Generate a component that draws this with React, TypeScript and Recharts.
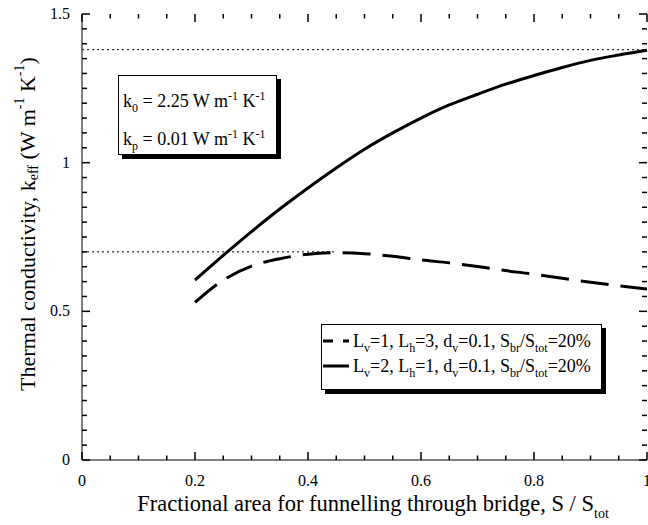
import React from 'react';
import { LineChart, Line, XAxis, YAxis, ReferenceLine, Legend } from 'recharts';

// fractional area S / S_tot
const fractions = [0.2, 0.25, 0.3, 0.35, 0.4, 0.45, 0.5, 0.55, 0.6, 0.65, 0.7, 0.75, 0.8, 0.85, 0.9, 0.95, 1];
// Lv=2, Lh=1 (solid)
const solidK = [0.605, 0.688, 0.768, 0.844, 0.915, 0.982, 1.045, 1.1, 1.15, 1.194, 1.23, 1.264, 1.293, 1.32, 1.344, 1.362, 1.378];
// Lv=1, Lh=3 (dashed)
const dashedK = [0.53, 0.605, 0.652, 0.677, 0.692, 0.697, 0.694, 0.685, 0.673, 0.663, 0.651, 0.637, 0.625, 0.611, 0.598, 0.586, 0.575];

const xTicks = [0, 0.05, 0.1, 0.15, 0.2, 0.25, 0.3, 0.35, 0.4, 0.45, 0.5, 0.55, 0.6, 0.65, 0.7, 0.75, 0.8, 0.85, 0.9, 0.95, 1];
const xMajor = [0, 0.2, 0.4, 0.6, 0.8, 1];
const yTicks = [0, 0.05, 0.1, 0.15, 0.2, 0.25, 0.3, 0.35, 0.4, 0.45, 0.5, 0.55, 0.6, 0.65, 0.7, 0.75, 0.8, 0.85, 0.9, 0.95, 1, 1.05, 1.1, 1.15, 1.2, 1.25, 1.3, 1.35, 1.4, 1.45, 1.5];
const yMajor = [0, 0.5, 1, 1.5];

const upperLevel = 1.38;
const lowerLevel = 0.7;
const lowerLevelEnd = 0.45;

const data = fractions.map((f, i) => ({ f, solid: solidK[i], dashed: dashedK[i] }));

const X_MIN = 0, X_MAX = 1, Y_MIN = 0, Y_MAX = 1.5;
// plot box in pixels, used only to turn tick lengths (px) into data units
const PLOT_W = 565, PLOT_H = 446;
const xPerPx = (X_MAX - X_MIN) / PLOT_W;
const yPerPx = (Y_MAX - Y_MIN) / PLOT_H;

const FONT = '"Liberation Serif", "Times New Roman", serif';
const FRAME = { stroke: '#000', strokeWidth: 1 };
const isMajor = (v: number, list: number[]) => list.some(m => Math.abs(m - v) < 1e-6);

const BottomLabel = ({ x, y, payload }: any) => (
  <text x={x} y={y + 26} textAnchor="middle" fontSize={16} fontFamily={FONT} fill="#000">
    {String(payload.value)}
  </text>
);

const LeftLabel = ({ x, y, payload }: any) => (
  <text x={x - 12} y={y + 5} textAnchor="end" fontSize={16} fontFamily={FONT} fill="#000">
    {String(payload.value)}
  </text>
);

const XTitle = () => (
  <text x={373} y={511} textAnchor="middle" fontSize={22.5} fontFamily={FONT} fill="#000">
    Fractional area for funnelling through bridge, S / S
    <tspan dy={7} fontSize={14}>tot</tspan>
  </text>
);

const YTitle = () => {
  const cy = 224;
  const cx = 27;
  return (
    <text x={cx} y={cy} transform={`rotate(-90 ${cx} ${cy})`} textAnchor="middle" dominantBaseline="central"
      fontSize={22} fontFamily={FONT} fill="#000">
      Thermal conductivity, k
      <tspan dy={6} fontSize={14}>eff</tspan>
      <tspan dy={-6}> (W m</tspan>
      <tspan dy={-8} fontSize={14}>-1</tspan>
      <tspan dy={8}> K</tspan>
      <tspan dy={-8} fontSize={14}>-1</tspan>
      <tspan dy={8}>)</tspan>
    </text>
  );
};

const sub = (s: string) => <span style={{ fontSize: 12, verticalAlign: -5, lineHeight: 0 }}>{s}</span>;
const sup = (s: string) => <span style={{ fontSize: 12, verticalAlign: 7, lineHeight: 0 }}>{s}</span>;

const rowStyle: React.CSSProperties = {
  position: 'absolute', left: 0, height: 24, lineHeight: '24px', display: 'flex', alignItems: 'center', whiteSpace: 'nowrap'
};

const LegendBox = () => (
  <div style={{
    position: 'relative', width: 281, height: 66, boxSizing: 'border-box',
    border: '1px solid #000', boxShadow: '4px 4px 0 #000', background: '#fff',
    fontFamily: FONT, fontSize: 18, color: '#000'
  }}>
    <div style={{ ...rowStyle, top: 4 }}>
      <svg width={26} height={10} style={{ marginLeft: 1, marginRight: 4 }}>
        <line x1={0} x2={26} y1={5} y2={5} stroke="#000" strokeWidth={3} strokeDasharray="10 10" />
      </svg>
      <span>L{sub('v')}=1, L{sub('h')}=3, d{sub('v')}=0.1, S{sub('br')}/S{sub('tot')}=20%</span>
    </div>
    <div style={{ ...rowStyle, top: 29 }}>
      <svg width={26} height={10} style={{ marginLeft: 1, marginRight: 4 }}>
        <line x1={0} x2={26} y1={5} y2={5} stroke="#000" strokeWidth={3} />
      </svg>
      <span>L{sub('v')}=2, L{sub('h')}=1, d{sub('v')}=0.1, S{sub('br')}/S{sub('tot')}=20%</span>
    </div>
  </div>
);

const infoRow: React.CSSProperties = {
  position: 'absolute', left: 4, height: 22, lineHeight: '22px', whiteSpace: 'nowrap'
};

// inward tick marks on all four sides of the frame
const tickStyle = { xAxisId: 'b', yAxisId: 'l', stroke: '#000', strokeWidth: 1.5, ifOverflow: 'visible' as const };

const xTickMarks = xTicks.flatMap(v => {
  const len = (isMajor(v, xMajor) ? 8 : 4.5) * yPerPx;
  return [
    <ReferenceLine key={`xb${v}`} {...tickStyle} segment={[{ x: v, y: Y_MIN }, { x: v, y: Y_MIN + len }]} />,
    <ReferenceLine key={`xt${v}`} {...tickStyle} segment={[{ x: v, y: Y_MAX }, { x: v, y: Y_MAX - len }]} />,
  ];
});

const yTickMarks = yTicks.flatMap(v => {
  const len = (isMajor(v, yMajor) ? 8 : 5) * xPerPx;
  return [
    <ReferenceLine key={`yl${v}`} {...tickStyle} segment={[{ x: X_MIN, y: v }, { x: X_MIN + len, y: v }]} />,
    <ReferenceLine key={`yr${v}`} {...tickStyle} segment={[{ x: X_MAX, y: v }, { x: X_MAX - len, y: v }]} />,
  ];
});

export default function App() {
  return (
    <div style={{ position: 'absolute', left: 0, top: 0, width: 648, height: 525, background: '#fff' }}>
      <LineChart width={648} height={525} data={data} margin={{ top: 14, right: 1, left: 0, bottom: 0 }}>
        <XAxis xAxisId="tm" orientation="top" type="number" dataKey="f" domain={[X_MIN, X_MAX]}
          tick={false} tickLine={false} axisLine={FRAME} height={0} />
        <YAxis yAxisId="rm" orientation="right" type="number" domain={[Y_MIN, Y_MAX]}
          tick={false} tickLine={false} axisLine={FRAME} width={0} />
        <XAxis xAxisId="b" dataKey="f" type="number" domain={[X_MIN, X_MAX]} ticks={xMajor} interval={0}
          tickSize={0} tickMargin={0} tickLine={false} tick={<BottomLabel />} height={65}
          axisLine={FRAME} label={XTitle} />
        <YAxis yAxisId="l" type="number" domain={[Y_MIN, Y_MAX]} ticks={yMajor} interval={0}
          tickSize={0} tickMargin={0} tickLine={false} tick={<LeftLabel />} width={82}
          axisLine={FRAME} label={YTitle} />
        {xTickMarks}
        {yTickMarks}
        <ReferenceLine xAxisId="b" yAxisId="l" y={upperLevel} stroke="#000" strokeDasharray="2 3" />
        <ReferenceLine xAxisId="b" yAxisId="l" segment={[{ x: 0, y: lowerLevel }, { x: lowerLevelEnd, y: lowerLevel }]}
          stroke="#000" strokeDasharray="2 3" />
        <Line xAxisId="b" yAxisId="l" dataKey="solid" type="monotone" stroke="#000" strokeWidth={3}
          dot={false} isAnimationActive={false} />
        <Line xAxisId="b" yAxisId="l" dataKey="dashed" type="monotone" stroke="#000" strokeWidth={3}
          strokeDasharray="28 12" dot={false} isAnimationActive={false} />
        <Legend layout="horizontal" verticalAlign="middle" align="center" content={<LegendBox />}
          wrapperStyle={{ left: 321, top: 324, width: 'auto', height: 'auto' }} />
      </LineChart>
      <div style={{
        position: 'absolute', left: 118, top: 75, width: 159, height: 80, border: '1px solid #000',
        boxShadow: '4px 4px 0 #000', background: '#fff', fontFamily: FONT, fontSize: 18, color: '#000',
        boxSizing: 'border-box'
      }}>
        <div style={{ ...infoRow, top: 14 }}>k{sub('0')} = 2.25 W m{sup('-1')} K{sup('-1')}</div>
        <div style={{ ...infoRow, top: 52 }}>k{sub('p')} = 0.01 W m{sup('-1')} K{sup('-1')}</div>
      </div>
    </div>
  );
}
